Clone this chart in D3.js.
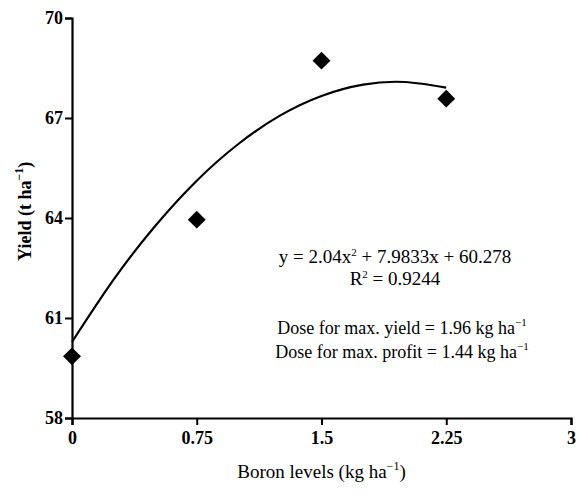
<!DOCTYPE html>
<html>
<head>
<meta charset="utf-8">
<script src="https://cdn.jsdelivr.net/npm/d3@7"></script>
<style>
body{margin:0;background:#fff}
text{font-family:"Liberation Serif","Times New Roman",serif;fill:#000}
</style>
</head>
<body>
<svg id="chart"></svg>
<script>
// boron dose (kg/ha) and yield (t/ha)
var boron=[0,0.75,1.5,2.25]
var yieldObs=[59.85,63.95,68.72,67.58]

// fitted curve
var curveX=[0,0.25,0.5,0.75,1,1.25,1.5,1.75,2,2.25]
var curveY=[60.28,62.15,63.76,65.12,66.22,67.07,67.66,68.0,68.08,67.91]

var xTicks=[0,0.75,1.5,2.25,3]
var yTicks=[58,61,64,67,70]

var screen={width:579,height:502}
var margins={top:18,right:8,bottom:84,left:72}

var svg=d3.select("#chart")
  .attr("width",screen.width)
  .attr("height",screen.height)

var x=d3.scaleLinear().domain([0,3]).range([margins.left,screen.width-margins.right])
var y=d3.scaleLinear().domain([58,70]).range([screen.height-margins.bottom,margins.top])

// axes
var xAxis=svg.append("g")
  .attr("transform","translate(0,"+y(58)+")")
  .call(d3.axisBottom(x).tickValues(xTicks).tickSize(7).tickPadding(4).tickFormat(function(d){return d}))
var yAxis=svg.append("g")
  .attr("transform","translate("+x(0)+",0)")
  .call(d3.axisLeft(y).tickValues(yTicks).tickSize(7).tickPadding(2))

svg.selectAll(".domain").attr("stroke","#000").attr("stroke-width",2.2)
svg.selectAll(".tick line").attr("stroke","#000").attr("stroke-width",2)
svg.selectAll(".tick text")
  .style("font-family","'Liberation Serif',serif")
  .style("font-size","18px")
  .style("font-weight","bold")
  .attr("fill","#000")
xAxis.selectAll(".tick text").attr("dy","0.85em")

// axis titles
var xt=svg.append("text")
  .attr("x",(x(0)+x(3))/2).attr("y",478)
  .attr("text-anchor","middle")
  .style("font-size","19px")
xt.append("tspan").text("Boron levels (kg ha")
xt.append("tspan").attr("dy",-8).style("font-size","12px").text("\u22121")
xt.append("tspan").attr("dy",8).text(")")

var yt=svg.append("text")
  .attr("transform","translate(31,"+y(64.2)+") rotate(-90)")
  .attr("text-anchor","middle")
  .style("font-size","18px")
  .style("font-weight","bold")
yt.append("tspan").text("Yield (t ha")
yt.append("tspan").attr("dy",-8).style("font-size","12px").text("\u22121")
yt.append("tspan").attr("dy",8).text(")")

// trend line
var line=d3.line()
  .x(function(d){return x(d[0])})
  .y(function(d){return y(d[1])})
  .curve(d3.curveNatural)
svg.append("path")
  .datum(d3.zip(curveX,curveY))
  .attr("d",line)
  .attr("fill","none")
  .attr("stroke","#000")
  .attr("stroke-width",2.2)

// observed points (diamonds)
svg.append("g").selectAll("path")
  .data(d3.zip(boron,yieldObs))
  .enter().append("path")
  .attr("transform",function(d){return "translate("+x(d[0])+","+y(d[1])+") rotate(45)"})
  .attr("d",d3.symbol(d3.symbolSquare,160))
  .attr("fill","#000")

// equation and notes
var notes=svg.append("g").style("font-size","18px")
var eq=notes.append("text").attr("x",395).attr("y",263).attr("text-anchor","middle").style("font-size","19px")
eq.append("tspan").text("y = 2.04x")
eq.append("tspan").attr("dy",-7).style("font-size","11px").text("2")
eq.append("tspan").attr("dy",7).text(" + 7.9833x + 60.278")
var r2=notes.append("text").attr("x",395).attr("y",285).attr("text-anchor","middle").style("font-size","19px")
r2.append("tspan").text("R")
r2.append("tspan").attr("dy",-7).style("font-size","11px").text("2")
r2.append("tspan").attr("dy",7).text(" = 0.9244")

var doses=[["Dose for max. yield = 1.96 kg ha",334],["Dose for max. profit = 1.44 kg ha",358]]
doses.forEach(function(dd){
  var t=notes.append("text").attr("x",402).attr("y",dd[1]).attr("text-anchor","middle")
  t.append("tspan").text(dd[0])
  t.append("tspan").attr("dy",-8).style("font-size","11px").text("\u22121")
})
</script>
</body>
</html>
